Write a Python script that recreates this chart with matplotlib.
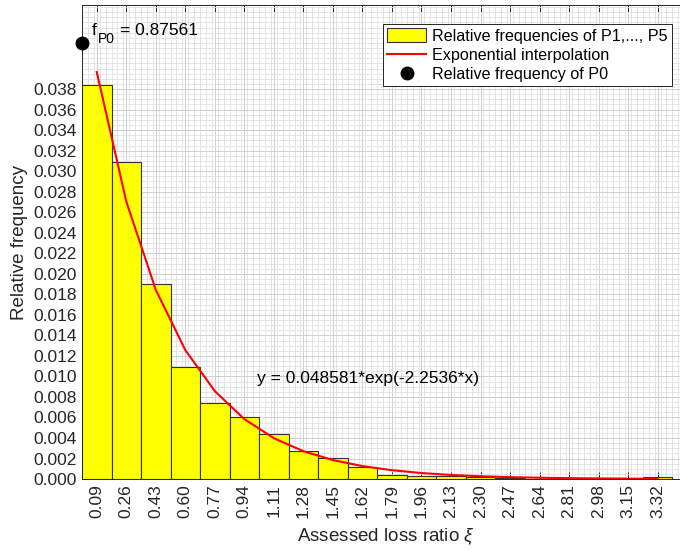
import numpy as np
import matplotlib
matplotlib.use("Agg")
import matplotlib.pyplot as plt
from matplotlib.ticker import FixedLocator, MultipleLocator

plt.rcParams['font.family'] = ['Liberation Sans', 'DejaVu Sans']
plt.rcParams['mathtext.fontset'] = 'custom'
plt.rcParams['mathtext.rm'] = 'Liberation Sans'
plt.rcParams['mathtext.it'] = 'Liberation Sans:italic'

# bin centres of the assessed loss ratio and relative frequencies of P1..P5
centers = [0.09, 0.26, 0.43, 0.60, 0.77, 0.94, 1.11, 1.28, 1.45, 1.62,
           1.79, 1.96, 2.13, 2.30, 2.47, 2.64, 2.81, 2.98, 3.15, 3.32]
rel_freq = [0.0384, 0.0309, 0.0190, 0.0109, 0.0074, 0.0060, 0.0044, 0.0027,
            0.0021, 0.0012, 0.0004, 0.0003, 0.0003, 0.0002, 0.0001, 0.00005,
            0.00004, 0.00003, 0.00004, 0.0002]
tick_labels = ['%.2f' % c for c in centers]

# exponential fit y = a*exp(b*x)
fit_a = 0.048581
fit_b = -2.2536

# relative frequency of P0 (drawn at the top of the axis)
f_p0 = 0.87561
p0_x = 0.005
p0_y = 0.0425

width = 0.17
x = np.array(centers)
y_fit = fit_a * np.exp(fit_b * x)

fig = plt.figure(figsize=(6.8, 5.5), dpi=100)
ax = fig.add_axes([0.1206, 0.129, 0.895, 0.862])

bars = ax.bar(x, rel_freq, width=width, color='#ffff00', edgecolor='#333333',
              linewidth=0.8, zorder=2)
line, = ax.plot(x, y_fit, color='#ff0000', lw=1.5, zorder=3)
dot, = ax.plot([p0_x], [p0_y], 'o', color='black', markersize=9, clip_on=False, zorder=4)

# f with a subscript P0, then the value
ax.text(0.063, 0.0437, 'f', fontsize=12.5, va='center')
ax.annotate('P0', (0.063, 0.0437), xytext=(4.5, -6), textcoords='offset points',
            fontsize=10, va='center')
ax.annotate('= %.5f' % f_p0, (0.063, 0.0437), xytext=(20, 0), textcoords='offset points',
            fontsize=12.5, va='center')
ax.text(1.01, 0.0098, 'y = %.6f*exp(%.4f*x)' % (fit_a, fit_b), fontsize=12.5, va='center')

ax.set_xlim(0.005, 3.51)
ax.set_ylim(0, 0.0462)
ax.set_xticks(x)
ax.set_xticklabels(tick_labels, rotation=90)
yt = np.arange(0, 0.0385, 0.002)
ax.set_yticks(yt)
ax.set_yticklabels(['%.3f' % v for v in yt])
ax.xaxis.set_minor_locator(FixedLocator(np.arange(0.005, 3.51, width / 5)))
ax.yaxis.set_minor_locator(MultipleLocator(0.0005))

ax.tick_params(which='major', direction='in', length=5, width=0.7,
               top=True, labelsize=12.5, colors='#262626')
ax.tick_params(which='minor', length=0)
ax.grid(which='major', color='#cfcfcf', lw=0.7, zorder=0)
ax.grid(which='minor', color='#e0e0e0', lw=0.6, zorder=0)
ax.set_axisbelow(True)
for s in ax.spines.values():
    s.set_color('#262626')
    s.set_linewidth(0.7)

ax.set_xlabel(r'Assessed loss ratio $\xi$', fontsize=13.5, color='#262626', labelpad=6)
ax.set_ylabel('Relative frequency', fontsize=13.5, color='#262626')

leg = ax.legend([bars, line, dot],
                ['Relative frequencies of P1,..., P5', 'Exponential interpolation',
                 'Relative frequency of P0'],
                loc='upper right', bbox_to_anchor=(672 / 680, 1 - 24 / 550),
                bbox_transform=fig.transFigure, borderaxespad=0,
                fontsize=11.6, fancybox=False, framealpha=1, edgecolor='#262626',
                handlelength=2.4, handleheight=1.0, borderpad=0.25, labelspacing=0.22,
                handletextpad=0.4)
leg.get_frame().set_linewidth(0.7)

fig.savefig('out.png', dpi=100)
